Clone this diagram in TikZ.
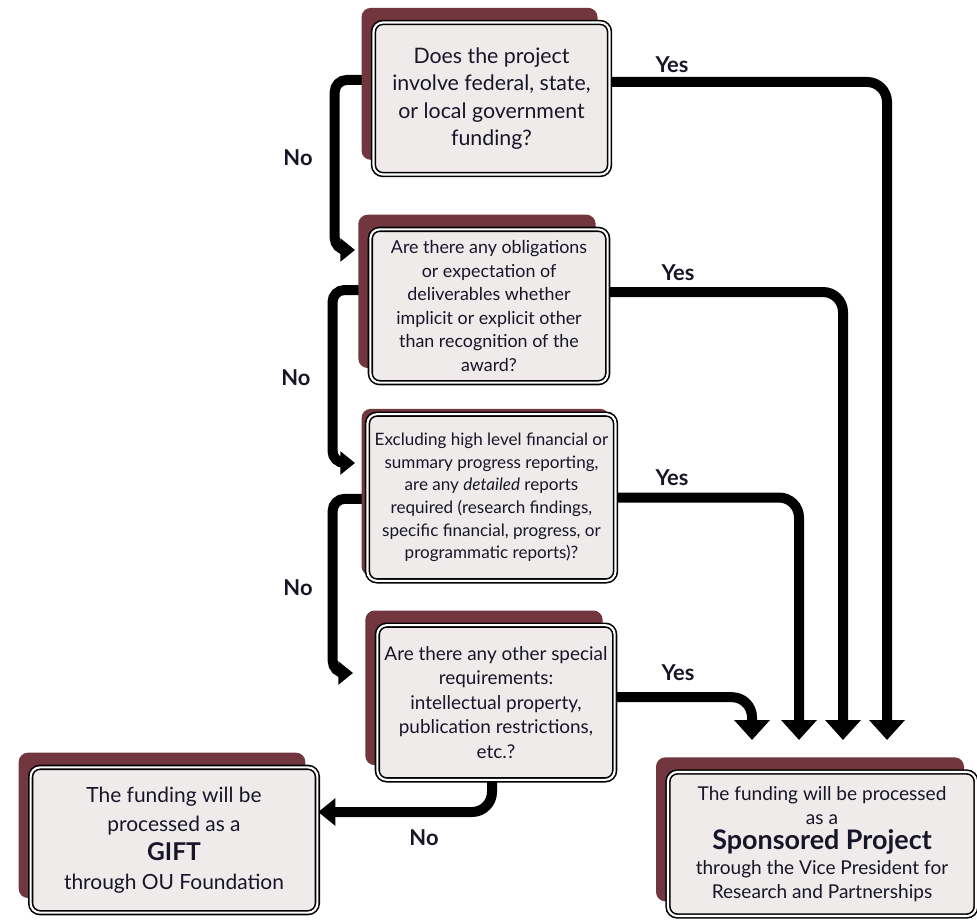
\documentclass[tikz,border=0pt]{standalone}
\usepackage{fontspec}
\setmainfont{Lato}
\usetikzlibrary{arrows.meta,shadows,backgrounds}

\definecolor{wine}{RGB}{114,54,62}
\definecolor{paper}{RGB}{238,235,234}
\definecolor{ink}{RGB}{22,22,40}

\tikzset{every picture/.style={line width=0.75pt}}
\tikzset{
  qbase/.style={draw, double, double distance=1.6pt, line width=1.2pt, fill=paper,
    rounded corners=7pt, align=center, inner sep=0pt, text=ink},
  qbox/.style={qbase, drop shadow={shadow xshift=-9pt, shadow yshift=11pt, fill=wine, opacity=1}},
  qthin/.style={qbase, drop shadow={shadow xshift=-4.5pt, shadow yshift=4pt, fill=wine, opacity=1}},
  lbl/.style={inner sep=0pt, text=ink, font=\bfseries\fontsize{16.4pt}{18pt}\selectfont},
  flow/.style={line width=7.5pt, rounded corners=15pt, -{Triangle[width=26pt,length=15pt]}},
  noflow/.style={line width=7.5pt, rounded corners=9pt, -{Triangle[width=17pt,length=11pt]}}
}

\begin{document}
\begin{tikzpicture}[x=0.75pt,y=0.75pt,yscale=-1,xscale=1]
            \useasboundingbox (0,0) rectangle (977,920);

            %Shape: Rectangle [question 1]
            \node [qbox, minimum width=177pt, minimum height=114pt, font=\fontsize{16pt}{20.6pt}\selectfont] (q1) at (491.5,98.5)
              {Does the project\\involve federal, state,\\or local government\\funding?};
            %Shape: Rectangle [question 2]
            \node [qbox, minimum width=178pt, minimum height=115pt, font=\fontsize{13.4pt}{17.6pt}\selectfont] (q2) at (489,306)
              {Are there any obligations\\or expectation of\\deliverables whether\\implicit or explicit other\\than recognition of the\\award?};
            %Shape: Rectangle [question 3]
            \node [qthin, minimum width=186pt, minimum height=125pt, font=\fontsize{12.8pt}{16.9pt}\selectfont] (q3) at (491.5,497.5)
              {Excluding high level financial or\\summary progress reporting,\\are any \emph{detailed} reports\\required (research findings,\\specific financial, progress, or\\programmatic reports)?};
            %Shape: Rectangle [question 4]
            \node [qbox, minimum width=178pt, minimum height=116pt, font=\fontsize{14.2pt}{18.4pt}\selectfont] (q4) at (496,702.5)
              {Are there any other special\\requirements:\\intellectual property,\\publication restrictions,\\etc.?};
            %Shape: Rectangle [gift]
            \node [qbox, minimum width=215pt, minimum height=109pt, font=\fontsize{15.7pt}{21.8pt}\selectfont] (gift) at (174,840)
              {The funding will be\\processed as a\\{\bfseries\fontsize{18.4pt}{22pt}\selectfont GIFT}\\through OU Foundation};
            %Shape: Rectangle [sponsored]
            \node [qbox, minimum width=231pt, minimum height=108pt, font=\fontsize{14.3pt}{18.5pt}\selectfont] (sp) at (822,844)
              {The funding will be processed\\as a\\{\bfseries\fontsize{20.2pt}{22pt}\selectfont Sponsored Project}\\through the Vice President for\\Research and Partnerships};

            %Arrow ends
            \coordinate (t1) at (887,740);
            \coordinate (t2) at (843,740);
            \coordinate (t3) at (799,740);
            \coordinate (t4) at (752,740);
            \coordinate (n1) at (355,250);
            \coordinate (n2) at (355,463);
            \coordinate (n3) at (353,673);

            \begin{pgfonlayer}{background}
            %Straight Lines [yes]
            \draw [flow] ([yshift=-12.4pt]q1.east) -| (t1);
            \draw [flow] ([yshift=-10.5pt]q2.east) -| (t2);
            \draw [flow] (q3.east) -| (t3);
            \draw [flow] ([yshift=-4pt]q4.east) -| (t4);
            %Straight Lines [no]
            \draw [noflow] ([yshift=-13.9pt]q1.west) -- ++(-38,0) |- (n1);
            \draw [noflow] ([yshift=-12pt]q2.west) -- ++(-37,0) |- (n2);
            \draw [noflow] ([yshift=1pt]q3.west) -- ++(-34,0) |- (n3);
            \draw [flow, -{Triangle[width=20pt,length=13pt]}] ([xshift=-3pt]q4.south) |- ([yshift=-21pt]gift.east);
            \end{pgfonlayer}

            % Text Node
            \node [lbl] (y1) at (672,65) {Yes};
            % Text Node
            \node [lbl] (y2) at (678,273) {Yes};
            % Text Node
            \node [lbl] (y3) at (672,478) {Yes};
            % Text Node
            \node [lbl] (y4) at (678,673) {Yes};
            % Text Node
            \node [lbl] (o1) at (298,158) {No};
            % Text Node
            \node [lbl] (o2) at (296,378) {No};
            % Text Node
            \node [lbl] (o3) at (298,588) {No};
            % Text Node
            \node [lbl] (o4) at (424,838) {No};
\end{tikzpicture}
\end{document}
